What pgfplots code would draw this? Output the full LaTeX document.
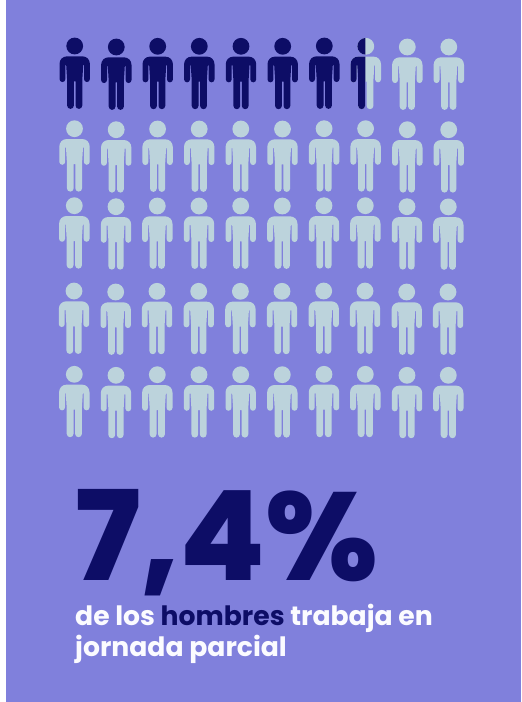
\documentclass[border=0pt]{standalone}
\usepackage{fontspec}
\usepackage{pgfplots}
\pgfplotsset{compat=1.18}
\setmainfont{Poppins}
\newfontfamily\heavyfont{Poppins ExtraBold}
\definecolor{panel}{HTML}{8080DC}
\definecolor{navy}{HTML}{0D0D66}
\definecolor{pale}{HTML}{BCD3DC}
\definecolor{offwhite}{HTML}{FBFBFF}

% Standing figure, origin at the centre of the head
\newcommand{\personpath}{%
  \pgfpathcircle{\pgfqpoint{0pt}{0pt}}{8.4pt}%
  \pgfpathmoveto{\pgfqpoint{0pt}{-10.3pt}}%
  \pgfpathlineto{\pgfqpoint{7.5pt}{-10.3pt}}%
  \pgfpathcurveto{\pgfqpoint{12.0pt}{-10.3pt}}{\pgfqpoint{15.2pt}{-13.5pt}}{\pgfqpoint{15.2pt}{-18pt}}%
  \pgfpathlineto{\pgfqpoint{15.2pt}{-33.1pt}}%
  \pgfpatharc{0}{-180}{2.95pt}%
  \pgfpathlineto{\pgfqpoint{9.3pt}{-19pt}}%
  \pgfpathlineto{\pgfqpoint{8.5pt}{-19pt}}%
  \pgfpathlineto{\pgfqpoint{7.6pt}{-34pt}}%
  \pgfpathlineto{\pgfqpoint{7.6pt}{-59.5pt}}%
  \pgfpatharc{0}{-180}{3.4pt}%
  \pgfpathlineto{\pgfqpoint{0.8pt}{-35.3pt}}%
  \pgfpathlineto{\pgfqpoint{-0.8pt}{-35.3pt}}%
  \pgfpathlineto{\pgfqpoint{-0.8pt}{-59.5pt}}%
  \pgfpatharc{0}{-180}{3.4pt}%
  \pgfpathlineto{\pgfqpoint{-7.6pt}{-34pt}}%
  \pgfpathlineto{\pgfqpoint{-8.5pt}{-19pt}}%
  \pgfpathlineto{\pgfqpoint{-9.3pt}{-19pt}}%
  \pgfpathlineto{\pgfqpoint{-9.3pt}{-33.1pt}}%
  \pgfpatharc{0}{-180}{2.95pt}%
  \pgfpathlineto{\pgfqpoint{-15.2pt}{-18pt}}%
  \pgfpathcurveto{\pgfqpoint{-15.2pt}{-13.5pt}}{\pgfqpoint{-12.0pt}{-10.3pt}}{\pgfqpoint{-7.5pt}{-10.3pt}}%
  \pgfpathclose
}
\pgfdeclareplotmark{person}{\personpath\pgfusepathqfill}
% Left part of the figure only, for the partly filled unit
\pgfdeclareplotmark{person left}{%
  \pgfpathrectangle{\pgfqpoint{-20pt}{-70pt}}{\pgfqpoint{19.6pt}{85pt}}%
  \pgfusepathqclip
  \personpath\pgfusepathqfill}

\begin{document}
\begin{tikzpicture}
\begin{axis}[
  scale only axis, width=522pt, height=702pt,
  xmin=0, xmax=522, ymin=0, ymax=702, y dir=reverse,
  hide axis, clip=false]
  \fill[white] (axis cs:0,0) rectangle (axis cs:522,702);
  \fill[panel] (axis cs:6,0) rectangle (axis cs:521,702);

  % Units not reached by the share, including the one that is split
  \addplot[only marks, mark=person, mark options={fill=pale, draw=none}] table {
    x y
    365.8 46.3
    407.3 47
    448.8 47
    74.5 128.7
    116.2 129.7
    157.6 129
    199.2 129
    240.8 129
    282.5 129
    324.1 128.7
    365.6 128.7
    407.3 129.7
    448.7 129.7
    74.3 205.7
    116 206.7
    157.3 206
    199 206
    240.7 206
    282.3 206
    324 205.7
    365.3 205.7
    407 206.7
    448.3 206.9
    74 291
    115.7 292
    157 291.3
    198.7 291.3
    240.4 291.3
    282 291.3
    323.7 291
    365 291
    406.7 292
    448 292
    74.3 374.3
    116 375.3
    157.3 374.7
    199 374.7
    240.7 374.7
    282.3 374.7
    324 374.3
    365.3 374.3
    407 375.3
    448.3 375.3
  };

  % Units covered by the share
  \addplot[only marks, mark=person, mark options={fill=navy, draw=none}] table {
    x y
    74.7 46
    116.3 47
    157.7 46.3
    199.3 46.3
    241 46.3
    282.7 46.3
    324.3 46
  };

  % Covered part of the split unit
  \addplot[only marks, mark=person left, mark options={fill=navy, draw=none}] table {
    x y
    365.8 46.3
  };

  \node[anchor=base west, inner sep=0pt, text=navy, font=\heavyfont\fontsize{124.8}{124.8}\selectfont]
    at (axis cs:75,580.7) {7,4\%};
  \node[anchor=base west, inner sep=0pt, text=offwhite, font=\bfseries\fontsize{26.65}{26.65}\selectfont]
    at (axis cs:75,625) {de los \textcolor{navy}{hombres} trabaja en};
  \node[anchor=base west, inner sep=0pt, text=offwhite, font=\bfseries\fontsize{26.65}{26.65}\selectfont]
    at (axis cs:75,656.7) {jornada parcial};
\end{axis}
\end{tikzpicture}
\end{document}
